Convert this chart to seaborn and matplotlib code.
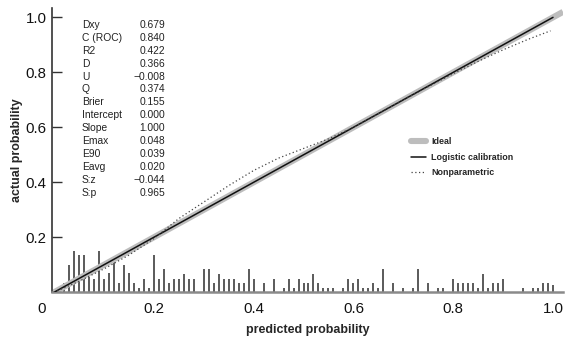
import numpy as np
import pandas as pd
import matplotlib
matplotlib.use("Agg")
import matplotlib.pyplot as plt
import seaborn as sns
from matplotlib.transforms import ScaledTranslation

# ---------------- data ----------------
ideal_x = [0.0, 1.02]
ideal_y = [0.0, 1.02]
logistic_x = [0.0, 1.0]
logistic_y = [0.0, 1.0]
nonpar_x = [0.0, 0.05, 0.10, 0.15, 0.20, 0.25, 0.30, 0.35, 0.40, 0.45, 0.50,
            0.55, 0.60, 0.65, 0.70, 0.75, 0.80, 0.85, 0.90, 0.95, 0.995]
nonpar_y = [0.0, 0.040, 0.085, 0.135, 0.195, 0.268, 0.328, 0.388, 0.443, 0.488, 0.523,
            0.558, 0.600, 0.650, 0.700, 0.748, 0.795, 0.840, 0.882, 0.920, 0.951]

spike_x = [0.02, 0.03, 0.04, 0.05, 0.06, 0.07, 0.08, 0.09, 0.10, 0.11, 0.12, 0.13,
           0.14, 0.15, 0.16, 0.17, 0.18, 0.19, 0.20, 0.21, 0.22, 0.23, 0.24, 0.25,
           0.26, 0.27, 0.28, 0.30, 0.31, 0.32, 0.33, 0.34, 0.35, 0.36, 0.37, 0.38,
           0.39, 0.40, 0.42, 0.44, 0.46, 0.47, 0.48, 0.49, 0.50, 0.51, 0.52, 0.53,
           0.54, 0.55, 0.56, 0.58, 0.59, 0.60, 0.61, 0.62, 0.63, 0.64, 0.65, 0.66,
           0.68, 0.70, 0.72, 0.73, 0.75, 0.77, 0.78, 0.80, 0.81, 0.82, 0.83, 0.84,
           0.85, 0.86, 0.87, 0.88, 0.89, 0.90, 0.94, 0.96, 0.97, 0.98, 0.99, 1.00]
spike_h = [0.034, 0.100, 0.150, 0.135, 0.135, 0.055, 0.050, 0.150, 0.050, 0.070, 0.110, 0.034,
           0.100, 0.070, 0.034, 0.017, 0.050, 0.017, 0.135, 0.050, 0.085, 0.034, 0.050, 0.050,
           0.068, 0.050, 0.050, 0.085, 0.085, 0.034, 0.068, 0.050, 0.050, 0.050, 0.034, 0.034,
           0.085, 0.050, 0.034, 0.050, 0.017, 0.050, 0.017, 0.050, 0.034, 0.034, 0.068, 0.034,
           0.017, 0.017, 0.017, 0.017, 0.050, 0.034, 0.050, 0.017, 0.017, 0.034, 0.017, 0.085,
           0.034, 0.017, 0.017, 0.085, 0.034, 0.017, 0.017, 0.050, 0.034, 0.034, 0.034, 0.034,
           0.017, 0.068, 0.017, 0.034, 0.034, 0.050, 0.017, 0.017, 0.017, 0.034, 0.034, 0.025]

stat_names = ["Dxy", "C (ROC)", "R2", "D", "U", "Q", "Brier", "Intercept",
              "Slope", "Emax", "E90", "Eavg", "S:z", "S:p"]
stat_values = ["0.679", "0.840", "0.422", "0.366", "\u22120.008", "0.374", "0.155",
               "0.000", "1.000", "0.048", "0.039", "0.020", "\u22120.044", "0.965"]

x_ticks = [0.0, 0.2, 0.4, 0.6, 0.8, 1.0]
x_tick_labels = ["0", "0.2", "0.4", "0.6", "0.8", "1.0"]
y_ticks = [0.2, 0.4, 0.6, 0.8, 1.0]
y_tick_labels = ["0.2", "0.4", "0.6", "0.8", "1.0"]

legend_labels = ["Ideal", "Logistic calibration", "Nonparametric"]

# ---------------- figure ----------------
sns.set_style("white")
plt.rcParams["font.family"] = ["Liberation Sans", "DejaVu Sans"]

W, H = 566, 342
fig = plt.figure(figsize=(W / 100, H / 100), dpi=100)
ax = fig.add_axes([52 / W, 1 - 292.3 / H, (563 - 52) / W, (292.3 - 8) / H])

ideal_df = pd.DataFrame({"x": ideal_x, "y": ideal_y})
log_df = pd.DataFrame({"x": logistic_x, "y": logistic_y})
np_df = pd.DataFrame({"x": nonpar_x, "y": nonpar_y})

sns.lineplot(data=ideal_df, x="x", y="y", ax=ax, color="#bdbdbd", lw=4.4,
             solid_capstyle="butt", label=legend_labels[0], zorder=2)
sns.lineplot(data=log_df, x="x", y="y", ax=ax, color="#111111", lw=1.1,
             label=legend_labels[1], zorder=3)
sns.lineplot(data=np_df, x="x", y="y", ax=ax, color="#444444", lw=0.9,
             linestyle=(0, (1, 2)), label=legend_labels[2], zorder=3)

ax.vlines(spike_x, 0, spike_h, colors="#2e2e2e", lw=1.1, zorder=1)

ax.set_xlim(-0.004, 1.02)
ax.set_ylim(0, 1.034)

ax.set_xticks(x_ticks)
ax.set_xticklabels(x_tick_labels)
ax.set_yticks(y_ticks)
ax.set_yticklabels(y_tick_labels)

ax.tick_params(axis="y", direction="in", length=7, width=1.0, color="#333333",
               labelsize=10.8, pad=4, labelcolor="#111111", left=True)
ax.tick_params(axis="x", length=0, labelsize=10.8, pad=7, labelcolor="#111111")

# shift "0" label left as in reference
lbl0 = ax.xaxis.get_major_ticks()[0].label1
lbl0.set_transform(lbl0.get_transform() + ScaledTranslation(-12 / 100, 0, fig.dpi_scale_trans))

for s in ["top", "right"]:
    ax.spines[s].set_visible(False)
ax.spines["left"].set_color("#333333")
ax.spines["left"].set_linewidth(1.2)
ax.spines["bottom"].set_color("#8a8a8a")
ax.spines["bottom"].set_linewidth(1.8)

ax.set_xlabel("predicted probability", fontsize=9, fontweight="bold", labelpad=6)
ax.set_ylabel("actual probability", fontsize=9, fontweight="bold", labelpad=2)

# stats block
for i, (n, v) in enumerate(zip(stat_names, stat_values)):
    yy = 1 - (25 + i * 12.9) / H
    fig.text(82 / W, yy, n, fontsize=7.4, color="#222222", va="center", ha="left")
    fig.text(165 / W, yy, v, fontsize=7.4, color="#222222", va="center", ha="right")

leg = ax.legend(loc="upper left", bbox_to_anchor=(411 / W, 1 - 137 / H),
                bbox_transform=fig.transFigure, frameon=False,
                handlelength=1.7, handletextpad=0.6, labelspacing=0.75,
                borderpad=0, borderaxespad=0,
                prop={"weight": "bold", "size": 6.4})
leg.get_lines()[0].set_solid_capstyle("round")

fig.savefig("out.png", dpi=100)
